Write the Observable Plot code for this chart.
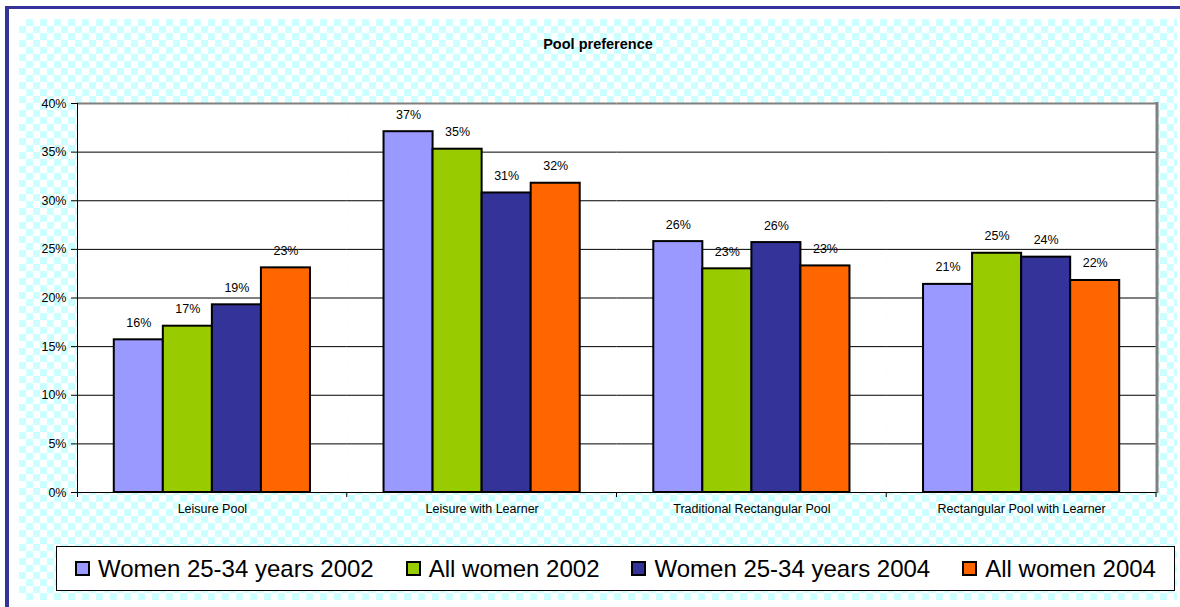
<!DOCTYPE html>
<html>
<head>
<meta charset="utf-8">
<script src="https://cdn.jsdelivr.net/npm/d3@7"></script>
<script src="https://cdn.jsdelivr.net/npm/@observablehq/plot@0.6"></script>
<style>
  body { margin: 0; background: #fff; }
  #page { position: relative; width: 1180px; height: 607px; overflow: hidden; font-family: "Liberation Sans", Arial, sans-serif; color: #000; }
  #border { position: absolute; left: 5px; top: 6px; width: 1200px; height: 620px; border-left: 4px solid #333399; border-top: 3px solid #333399; }
  #area { position: absolute; left: 19px; top: 19px; width: 1158px; height: 581px; background-color: #fff;
          background-image: conic-gradient(#ccffff 25%, #fff 0 50%, #ccffff 0 75%, #fff 0); background-size: 14px 14px; }
  #title { position: absolute; left: 19px; width: 1158px; top: 36px; text-align: center; font-weight: bold; font-size: 14.5px; }
  #chart { position: absolute; left: 0; top: 0; }
  #legend { position: absolute; left: 56px; top: 546px; width: 1119px; height: 45px; box-sizing: border-box; border: 1px solid #000;
            background: #fff; display: flex; align-items: center; padding-left: 18px; font-size: 24px; white-space: nowrap; }
  .item { display: flex; align-items: center; margin-right: 32px; }
  .sw { width: 15px; height: 15px; box-sizing: border-box; border: 2px solid #000; margin-right: 8px; }
</style>
</head>
<body>
<div id="page">
  <div id="border"></div>
  <div id="area"></div>
  <div id="title">Pool preference</div>
  <div id="chart"></div>
  <div id="legend"></div>
</div>
<script>
// Pool types asked about, and the four survey groups
const categories = ["Leisure Pool", "Leisure with Learner", "Traditional Rectangular Pool", "Rectangular Pool with Learner"];
const series = ["Women 25-34 years 2002", "All women 2002", "Women 25-34 years 2004", "All women 2004"];
const colors = ["#9999ff", "#99cc00", "#333399", "#ff6600"];

// Share preferring each pool type, one array per group (order follows categories)
const women2534_2002 = [0.157, 0.371, 0.258, 0.214];
const allWomen2002   = [0.171, 0.353, 0.230, 0.246];
const women2534_2004 = [0.193, 0.308, 0.257, 0.242];
const allWomen2004   = [0.231, 0.318, 0.233, 0.218];

const yTicks = [0, 0.05, 0.10, 0.15, 0.20, 0.25, 0.30, 0.35, 0.40];

const groupValues = [women2534_2002, allWomen2002, women2534_2004, allWomen2004];
const rows = categories.flatMap((category, i) =>
  series.map((s, j) => ({category, series: s, value: groupValues[j][i]}))
);
const pct = d3.format(".0%");

const plot = Plot.plot({
  width: 1180,
  height: 530,
  marginTop: 103,
  marginBottom: 38,
  marginLeft: 77,
  marginRight: 24,
  style: {background: "transparent", fontFamily: "Liberation Sans, Arial, sans-serif", fontSize: "12.5px", color: "#000", overflow: "visible"},
  fx: {domain: categories, padding: 0, round: false, label: null, tickSize: 0, tickPadding: 12},
  x: {domain: series, paddingInner: 0, paddingOuter: 0.75, round: false, axis: null},
  y: {domain: [0, 0.4], ticks: yTicks, tickFormat: pct, tickSize: 6, tickPadding: 5, label: null},
  color: {domain: series, range: colors},
  marks: [
    Plot.frame({fill: "#fff", stroke: null}),
    Plot.gridY(yTicks.filter((t) => t > 0 && t < 0.4), {stroke: "#000", strokeOpacity: 1}),
    Plot.ruleY([0.4], {stroke: "#808080", strokeWidth: 2}),
    Plot.ruleY([0], {stroke: "#000"}),
    Plot.barY(rows, {fx: "category", x: "series", y: "value", fill: "series", stroke: "#000", strokeWidth: 2}),
    Plot.text(rows, {fx: "category", x: "series", y: "value", text: (d) => pct(d.value), dy: -17, fill: "#000"})
  ]
});

// Plot-area border, value axis line and category boundary ticks
const fx = plot.scale("fx");
const y = plot.scale("y");
const left = fx.apply(categories[0]);
const right = fx.apply(categories[categories.length - 1]) + fx.bandwidth;
const y0 = y.apply(0);
const yTop = y.apply(0.4);
const chrome = d3.select(plot).append("g");
chrome.append("line")
  .attr("x1", right + 1).attr("x2", right + 1).attr("y1", yTop - 1).attr("y2", y0 + 1)
  .attr("stroke", "#808080").attr("stroke-width", 3);
chrome.append("line")
  .attr("x1", left + 0.5).attr("x2", left + 0.5).attr("y1", yTop).attr("y2", y0 + 5)
  .attr("stroke", "#000");
categories.forEach((c) => {
  const xb = fx.apply(c) + fx.bandwidth;
  chrome.append("line")
    .attr("x1", xb).attr("x2", xb).attr("y1", y0).attr("y2", y0 + 5)
    .attr("stroke", "#000");
});
document.getElementById("chart").append(plot);

// Legend row
const legend = d3.select("#legend");
series.forEach((s, i) => {
  const item = legend.append("div").attr("class", "item");
  item.append("div").attr("class", "sw").style("background", colors[i]);
  item.append("span").text(s);
});
</script>
</body>
</html>
